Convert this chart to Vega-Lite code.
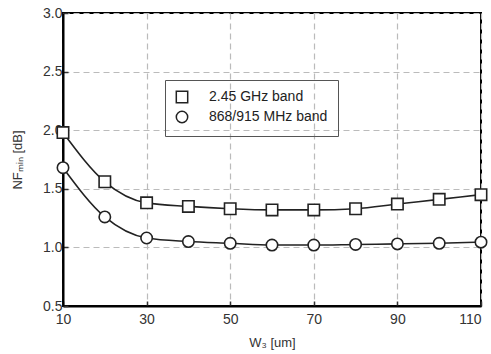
{
  "$schema": "https://vega.github.io/schema/vega-lite/v6.json",
  "width": 418,
  "height": 293,
  "autosize": "none",
  "padding": {"left": 63, "top": 13, "right": 10, "bottom": 48},
  "background": "white",
  "config": {
    "font": "Liberation Sans",
    "view": {"stroke": "black", "strokeWidth": 2}
  },
  "data": {
    "values": [
      {"w": 10, "nf": 1.98, "band": "2.45 GHz band"},
      {"w": 20, "nf": 1.56, "band": "2.45 GHz band"},
      {"w": 30, "nf": 1.38, "band": "2.45 GHz band"},
      {"w": 40, "nf": 1.35, "band": "2.45 GHz band"},
      {"w": 50, "nf": 1.33, "band": "2.45 GHz band"},
      {"w": 60, "nf": 1.32, "band": "2.45 GHz band"},
      {"w": 70, "nf": 1.32, "band": "2.45 GHz band"},
      {"w": 80, "nf": 1.33, "band": "2.45 GHz band"},
      {"w": 90, "nf": 1.37, "band": "2.45 GHz band"},
      {"w": 100, "nf": 1.41, "band": "2.45 GHz band"},
      {"w": 110, "nf": 1.45, "band": "2.45 GHz band"},
      {"w": 10, "nf": 1.68, "band": "868/915 MHz band"},
      {"w": 20, "nf": 1.26, "band": "868/915 MHz band"},
      {"w": 30, "nf": 1.08, "band": "868/915 MHz band"},
      {"w": 40, "nf": 1.05, "band": "868/915 MHz band"},
      {"w": 50, "nf": 1.035, "band": "868/915 MHz band"},
      {"w": 60, "nf": 1.02, "band": "868/915 MHz band"},
      {"w": 70, "nf": 1.02, "band": "868/915 MHz band"},
      {"w": 80, "nf": 1.025, "band": "868/915 MHz band"},
      {"w": 90, "nf": 1.03, "band": "868/915 MHz band"},
      {"w": 100, "nf": 1.035, "band": "868/915 MHz band"},
      {"w": 110, "nf": 1.045, "band": "868/915 MHz band"}
    ]
  },
  "encoding": {
    "x": {
      "field": "w", "type": "quantitative",
      "scale": {"domain": [10, 110], "nice": false, "zero": false},
      "axis": {
        "values": [10, 30, 50, 70, 90, 110],
        "title": "W₃ [um]",
        "titleFontSize": 13, "titleFontWeight": "normal", "titleColor": "#333",
        "titlePadding": 10,
        "labelFontSize": 14, "labelColor": "#333", "labelPadding": 11,
        "labelOverlap": false, "labelFlush": false,
        "labelAlign": {"condition": {"test": "datum.value === 110", "value": "right"}, "value": "center"},
        "domainColor": "black", "domainWidth": 2,
        "tickColor": "#333", "tickSize": -5, "tickWidth": 1.5,
        "gridColor": "#bbb", "gridDash": [6, 4], "gridWidth": 1.2
      }
    },
    "y": {
      "field": "nf", "type": "quantitative",
      "scale": {"domain": [0.5, 3.0], "nice": false, "zero": false},
      "axis": {
        "values": [0.5, 1.0, 1.5, 2.0, 2.5, 3.0],
        "format": ".1f",
        "title": "NFₘᵢₙ [dB]",
        "titleFontSize": 13, "titleFontWeight": "normal", "titleColor": "#333",
        "titlePadding": 18,
        "labelFontSize": 14, "labelColor": "#333", "labelPadding": 6,
        "labelOverlap": false, "labelFlush": false,
        "domainColor": "black", "domainWidth": 2,
        "tickColor": "#333", "tickSize": -5, "tickWidth": 1.5,
        "gridColor": "#bbb", "gridDash": [6, 4], "gridWidth": 1.2
      }
    }
  },
  "layer": [
    {
      "mark": {"type": "line", "interpolate": "monotone", "color": "#222", "strokeWidth": 1.6},
      "encoding": {"detail": {"field": "band"}}
    },
    {
      "mark": {"type": "point", "filled": false, "fill": "white", "fillOpacity": 1, "color": "#222", "strokeWidth": 1.6, "size": 130, "opacity": 1},
      "encoding": {
        "shape": {
          "field": "band", "type": "nominal",
          "scale": {"domain": ["2.45 GHz band", "868/915 MHz band"], "range": ["square", "circle"]},
          "legend": {
            "title": null,
            "orient": "none",
            "legendX": 102,
            "legendY": 67,
            "strokeColor": "#555",
            "padding": 10,
            "labelFontSize": 14,
            "labelColor": "#222",
            "labelOffset": 20,
            "symbolSize": 130
          }
        }
      }
    }
  ]
}
